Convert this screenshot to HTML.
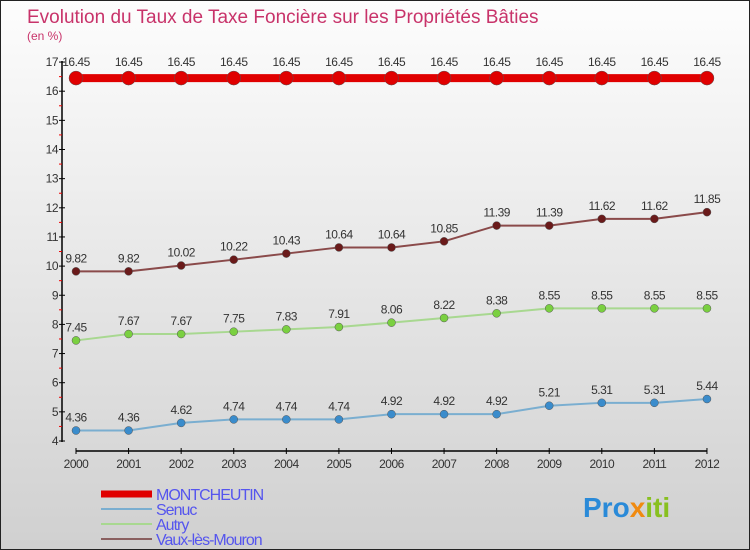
<!DOCTYPE html>
<html><head><meta charset="utf-8"><style>
body{margin:0}
#c{width:750px;height:550px;position:relative;overflow:hidden;box-sizing:border-box;border:1px solid #222;background:linear-gradient(#fdfdfd,#d0d0d0);font-family:"Liberation Sans",sans-serif}
svg{position:absolute;left:0;top:0}
</style></head><body>
<div id="c">
<svg id="s" width="750" height="550"></svg>
</div>
<script>
const years=["2000","2001","2002","2003","2004","2005","2006","2007","2008","2009","2010","2011","2012"];
const montcheutin=[16.45,16.45,16.45,16.45,16.45,16.45,16.45,16.45,16.45,16.45,16.45,16.45,16.45];
const senuc=[4.36,4.36,4.62,4.74,4.74,4.74,4.92,4.92,4.92,5.21,5.31,5.31,5.44];
const autry=[7.45,7.67,7.67,7.75,7.83,7.91,8.06,8.22,8.38,8.55,8.55,8.55,8.55];
const vaux=[9.82,9.82,10.02,10.22,10.43,10.64,10.64,10.85,11.39,11.39,11.62,11.62,11.85];
const yTicks=[4,5,6,7,8,9,10,11,12,13,14,15,16,17];
const NS="http://www.w3.org/2000/svg",s=document.getElementById('s');
function el(t,a,p){const e=document.createElementNS(NS,t);for(const k in a)e.setAttribute(k,a[k]);(p||s).appendChild(e);return e;}
const X=i=>75+i*52.58, Y=v=>440-(v-4)*29.15;
let t=el('text',{x:26,y:22,fill:'#c8336a','font-size':19});t.textContent='Evolution du Taux de Taxe Foncière sur les Propriétés Bâties';

t=el('text',{x:26,y:39,fill:'#c8336a','font-size':12});t.textContent='(en %)';

let ax=el('line',{x1:61,y1:60,x2:61,y2:441,stroke:'#000','stroke-width':1.5});

yTicks.forEach(v=>{el('line',{x1:58,y1:Y(v),x2:64,y2:Y(v),stroke:'#000'});
 if(v<17)el('line',{x1:58,y1:Y(v+0.5),x2:61,y2:Y(v+0.5),stroke:'#e00'});
 const l=el('text',{x:57,y:Y(v)+4,'text-anchor':'end','font-size':12,fill:'#333','letter-spacing':'-0.5'});l.textContent=v;
 });
ax=el('line',{x1:75,y1:450,x2:706,y2:450,stroke:'#000','stroke-width':1.5});

years.forEach((y,i)=>{el('line',{x1:X(i),y1:447,x2:X(i),y2:453,stroke:'#000'});
 const l=el('text',{x:X(i),y:467,'text-anchor':'middle','font-size':12,fill:'#333','letter-spacing':'-0.5'});l.textContent=y;
 });
function series(d,col,fill,w,r,name){
 const g=el('g',{});
 el('polyline',{points:d.map((v,i)=>X(i)+','+Y(v)).join(' '),fill:'none',stroke:col,'stroke-width':w},g);
 d.forEach((v,i)=>{const c=el('circle',{cx:X(i),cy:Y(v),r:r,fill:fill,stroke:'#555','stroke-width':0.5},g);
  
  const l=el('text',{x:X(i),y:Y(v)-(r+5),'text-anchor':'middle','font-size':12,fill:'#333','letter-spacing':'-0.5'},g);l.textContent=v;
  });
}
series(senuc,'#7aaed0','#3a8ccc',2,4,'senuc');
series(autry,'#a8d890','#7ad040',2,4,'autry');
series(vaux,'#8a4a4a','#6a1a1a',2,4,'vaux');
series(montcheutin,'#e00000','#e00000',8,7,'montcheutin');
const leg=[['MONTCHEUTIN','#e00000',7],['Senuc','#7aaed0',2],['Autry','#a8d890',2],['Vaux-lès-Mouron','#8a6060',2]];
leg.forEach((e,i)=>{const y=493+i*15;const g=el('g',{});
 el('line',{x1:100,y1:y,x2:151,y2:y,stroke:e[1],'stroke-width':e[2]},g);
 const l=el('text',{x:155,y:y+6,'font-size':16,fill:'#5555ee','letter-spacing':'-1'},g);l.textContent=e[0];});
const p=el('text',{x:582,y:516,'font-size':28,'font-weight':'bold',fill:'#2a8ad8'});

[['Pro','#2a8ad8'],['x','#f08a10'],['iti','#88c020']].forEach(a=>{const ts=el('tspan',{fill:a[1]},p);ts.textContent=a[0];});
</script>
</body></html>
